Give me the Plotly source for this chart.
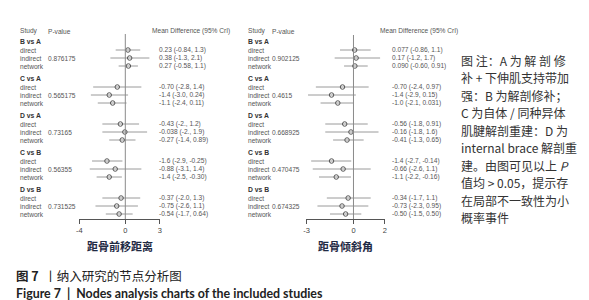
import plotly.graph_objects as go

# ---------------- data ----------------
groups = ["B vs A", "C vs A", "D vs A", "C vs B", "D vs B"]
row_types = ["direct", "indirect", "network"]

p1_title = "距骨前移距离"
p1_pvalue = ["0.876175", "0.565175", "0.73165", "0.56355", "0.731525"]
p1_mean = ["0.23", "0.38", "0.27", "-0.70", "-1.4", "-1.1", "-0.43", "-0.038", "-0.27",
           "-1.6", "-0.88", "-1.4", "-0.37", "-0.75", "-0.54"]
p1_lo = ["-0.84", "-1.3", "-0.58", "-2.8", "-3.0", "-2.4", "-2.", "-2.", "-1.4",
         "-2.9", "-3.1", "-2.5", "-2.0", "-2.6", "-1.7"]
p1_hi = ["1.3", "2.1", "1.1", "1.4", "0.24", "0.11", "1.2", "1.9", "0.89",
         "-0.25", "1.4", "-0.30", "1.3", "1.1", "0.64"]
p1_ticks = [-4, 0, 3]

p2_title = "距骨倾斜角"
p2_pvalue = ["0.902125", "0.4615", "0.668925", "0.470475", "0.674325"]
p2_mean = ["0.077", "0.17", "0.090", "-0.70", "-1.4", "-1.0", "-0.56", "-0.16", "-0.41",
           "-1.4", "-0.66", "-1.1", "-0.34", "-0.73", "-0.50"]
p2_lo = ["-0.86", "-1.2", "-0.60", "-2.4", "-2.9", "-2.1", "-1.8", "-1.8", "-1.3",
         "-2.7", "-2.6", "-2.2", "-1.7", "-2.3", "-1.5"]
p2_hi = ["1.1", "1.7", "0.91", "0.97", "0.15", "0.031", "0.91", "1.6", "0.65",
         "-0.14", "1.1", "-0.16", "1.1", "0.95", "0.50"]
p2_ticks = [-3, 0, 2]

note_lines = [
    "图 注：A 为 解 剖 修",
    "补 + 下伸肌支持带加",
    "强：B 为解剖修补；",
    "C 为自体 / 同种异体",
    "肌腱解剖重建：D 为",
    "internal brace 解剖重",
    "建。由图可见以上 <i>P</i>",
    "值均 > 0.05，提示存",
    "在局部不一致性为小",
    "概率事件",
]
caption_cn = "<b>图 7</b>  丨纳入研究的节点分析图"
caption_en = "<b>Figure 7  |  Nodes analysis charts of the included studies</b>"

# ---------------- layout helpers ----------------
W, H = 589, 300
GROUP_Y0, GROUP_STEP = 33, 37
ROW_OFF = [9, 17, 25]
AXIS_Y = 211
SMALL = dict(family="Liberation Sans, Arial", size=6.6, color="#555555")

fig = go.Figure()
annotations = []
shapes = []


def px(x):
    return x / W


def add_panel(axis_id, mean, lo, hi, pvals, ticks, title, x_study, x_p, x_md, x_vals,
              x0px, x1px, top_line):
    xa = "x" if axis_id == 1 else "x%d" % axis_id
    ys, line_x, line_y = [], [], []
    for g, grp in enumerate(groups):
        gy = GROUP_Y0 + GROUP_STEP * g
        annotations.append(dict(x=px(x_study), y=gy, xref="paper", yref="y", text="<b>%s</b>" % grp,
                                showarrow=False, xanchor="left", yanchor="middle",
                                font=dict(family="Liberation Sans, Arial", size=6.8, color="#333333")))
        for r, rt in enumerate(row_types):
            i = g * 3 + r
            y = gy + ROW_OFF[r]
            ys.append(y)
            line_x += [float(lo[i]), float(hi[i]), None]
            line_y += [y, y, None]
            annotations.append(dict(x=px(x_study), y=y, xref="paper", yref="y", text=rt,
                                    showarrow=False, xanchor="left", yanchor="middle", font=SMALL))
            annotations.append(dict(x=px(x_vals), y=y, xref="paper", yref="y",
                                    text="%s (%s, %s)" % (mean[i], lo[i], hi[i]),
                                    showarrow=False, xanchor="left", yanchor="middle", font=SMALL))
            if rt == "indirect":
                annotations.append(dict(x=px(x_p), y=y, xref="paper", yref="y", text=pvals[g],
                                        showarrow=False, xanchor="left", yanchor="middle", font=SMALL))
    # header
    hy = 23
    annotations.append(dict(x=px(x_study), y=hy, xref="paper", yref="y", text="Study",
                            showarrow=False, xanchor="left", yanchor="middle", font=SMALL))
    annotations.append(dict(x=px(x_p), y=hy, xref="paper", yref="y", text="P-value",
                            showarrow=False, xanchor="left", yanchor="middle", font=SMALL))
    annotations.append(dict(x=px(x_md), y=hy, xref="paper", yref="y", text="Mean Difference (95% CrI)",
                            showarrow=False, xanchor="left", yanchor="middle", font=SMALL))
    # reference line at 0
    shapes.append(dict(type="line", xref=xa, yref="y", x0=0, x1=0, y0=top_line, y1=AXIS_Y,
                       line=dict(color="#8a8a8a", width=1)))
    fig.add_trace(go.Scatter(x=line_x, y=line_y, mode="lines", xaxis=xa, yaxis="y",
                             line=dict(color="#9a9a9a", width=1), hoverinfo="skip", showlegend=False))
    fig.add_trace(go.Scatter(x=[float(v) for v in mean], y=ys, mode="markers", xaxis=xa, yaxis="y",
                             marker=dict(symbol="circle-open", size=4.5, color="#555555",
                                         line=dict(width=1, color="#555555")),
                             showlegend=False))
    axis = dict(domain=[px(x0px), px(x1px)], range=[ticks[0], ticks[-1]], anchor="free",
                position=(H - AXIS_Y) / H, showline=True, linecolor="#555555", linewidth=1,
                ticks="outside", ticklen=4, tickcolor="#555555", tickvals=ticks,
                ticktext=[str(t) for t in ticks], showgrid=False, zeroline=False,
                tickfont=dict(family="Liberation Sans, Arial", size=7.5, color="#444444"))
    fig.update_layout(**{("xaxis" if axis_id == 1 else "xaxis%d" % axis_id): axis})
    annotations.append(dict(x=px((x0px + x1px) / 2), y=238, xref="paper", yref="y",
                            text="<b>%s</b>" % title, showarrow=False, xanchor="center",
                            yanchor="middle",
                            font=dict(family="Noto Sans CJK SC", size=11, color="#1f2a44")))


add_panel(1, p1_mean, p1_lo, p1_hi, p1_pvalue, p1_ticks, p1_title,
          x_study=7, x_p=35, x_md=140, x_vals=147, x0px=69, x1px=150, top_line=26)
add_panel(2, p2_mean, p2_lo, p2_hi, p2_pvalue, p2_ticks, p2_title,
          x_study=237, x_p=261, x_md=370, x_vals=382, x0px=298, x1px=377, top_line=27)

for k, ln in enumerate(note_lines):
    annotations.append(dict(x=px(452), y=52 + 17.5 * k, xref="paper", yref="y", text=ln,
                            showarrow=False, xanchor="left", yanchor="middle",
                            font=dict(family="Noto Sans CJK SC", size=12, color="#333333")))

annotations.append(dict(x=px(3), y=267, xref="paper", yref="y", text=caption_cn, showarrow=False,
                        xanchor="left", yanchor="middle",
                        font=dict(family="Noto Sans CJK SC", size=12.5, color="#222222")))
annotations.append(dict(x=px(3), y=285, xref="paper", yref="y", text=caption_en, showarrow=False,
                        xanchor="left", yanchor="middle",
                        font=dict(family="Lato", size=12.4, color="#222222")))

fig.update_layout(
    width=W, height=H, margin=dict(l=0, r=0, t=0, b=0),
    paper_bgcolor="white", plot_bgcolor="white",
    yaxis=dict(domain=[0, 1], range=[H, 0], visible=False, fixedrange=True),
    annotations=annotations, shapes=shapes, showlegend=False,
)

fig.write_html("out.html")
